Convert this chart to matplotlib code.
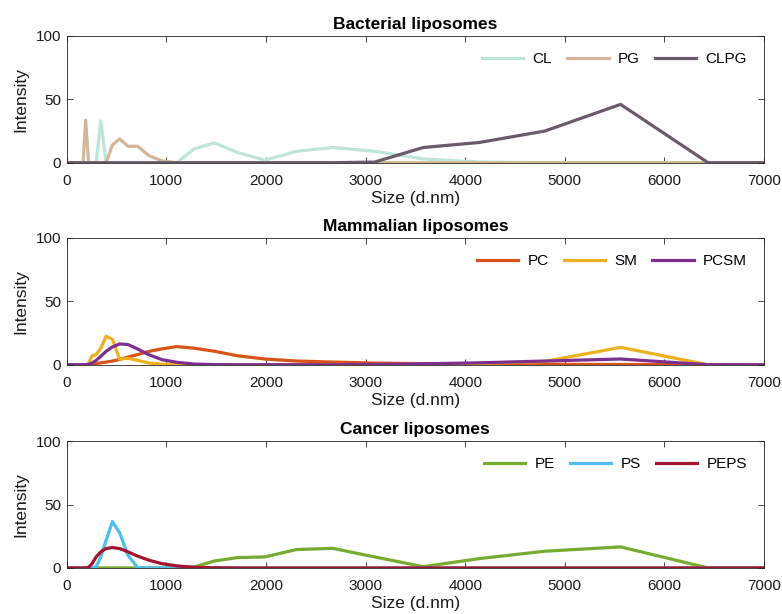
import matplotlib
matplotlib.use("Agg")
import matplotlib.pyplot as plt

plt.rcParams['font.family'] = ['Liberation Sans', 'DejaVu Sans']

# DLS size bins (d.nm), first bin stands for the small-size end
size_bins = [0.4, 122.4, 141.8, 164.2, 190.1, 220.2, 255.0, 295.3, 342.0, 396.1,
             458.7, 531.2, 615.1, 712.4, 825.0, 955.4, 1106, 1281, 1484, 1718,
             1990, 2305, 2669, 3091, 3580, 4145, 4801, 5560, 6439, 7456, 8635, 10000]

# bacterial
cl   = [0, 0, 0, 0, 0, 0, 0, 0, 33, 0, 0, 0, 0, 0, 0, 0, 0, 11, 15.6, 8, 2, 9, 12, 9, 3, 0.5, 0, 0, 0, 0, 0, 0]
pg   = [0, 0, 0, 0, 33.5, 0, 0, 0, 0, 0, 14, 18.8, 13, 13, 5.5, 1.5, 0, 0, 0, 0, 0, 0, 0, 0, 0, 0, 0, 0, 0, 0, 0, 0]
clpg = [0, 0, 0, 0, 0, 0, 0, 0, 0, 0, 0, 0, 0, 0, 0, 0, 0, 0, 0, 0, 0, 0, 0, 0.5, 12, 16, 25, 46, 0, 0, 0, 0]

# mammalian
pc   = [0, 0, 0, 0, 0, 0.1, 0.3, 0.8, 1.5, 2.1, 2.9, 4.2, 6, 8, 10.5, 12.5, 14.3, 13, 10.6, 7, 4.5, 2.9, 2.1, 1.3, 0.8, 0.5, 0.3, 0.2, 0, 0, 0, 0]
sm   = [0, 0, 0, 0, 0, 1, 7, 8, 13, 22.5, 20, 4.5, 5, 3.5, 1.3, 0.5, 0, 0, 0, 0, 0, 0, 0, 0, 0.2, 1, 2.6, 13.7, 0, 0, 0, 0]
pcsm = [0, 0, 0, 0, 0, 0.3, 1.3, 3.4, 6.6, 10.6, 14, 16.4, 15.9, 12.4, 7.9, 4, 1.9, 0.5, 0.1, 0, 0, 0, 0, 0.2, 0.7, 1.5, 2.9, 4.5, 0, 0, 0, 0]

# cancer
pe   = [0, 0, 0, 0, 0, 0, 0, 0, 0, 0, 0, 0, 0, 0, 0, 0, 0, 0.8, 5.5, 8.2, 8.7, 14.5, 15.5, 8.7, 1.0, 7.4, 13.2, 16.6, 0, 0, 0, 0]
ps   = [0, 0, 0, 0, 0, 0, 0, 0.8, 8.7, 22, 36.5, 27.8, 10, 0.3, 0, 0, 0, 0, 0, 0, 0, 0, 0, 0, 0, 0, 0, 0, 0, 0, 0, 0]
peps = [0, 0, 0, 0, 0, 0.5, 3.4, 8.7, 12.7, 15.3, 16.1, 15.3, 12.7, 9.3, 6.1, 3.4, 1.6, 0.5, 0.1, 0, 0, 0, 0, 0, 0, 0, 0, 0, 0, 0, 0, 0]

panels = [
    ("Bacterial liposomes", [("CL", cl, "#bde5d8"), ("PG", pg, "#d1b699"), ("CLPG", clpg, "#695b69")]),
    ("Mammalian liposomes", [("PC", pc, "#D95319"), ("SM", sm, "#EDB120"), ("PCSM", pcsm, "#7E2F8E")]),
    ("Cancer liposomes", [("PE", pe, "#77AC30"), ("PS", ps, "#4DBEEE"), ("PEPS", peps, "#A2142F")]),
]

fig = plt.figure(figsize=(7.82, 6.14), dpi=100)
bottoms = [0.735, 0.406, 0.075]
axcol = "#262626"
for (title, series), b in zip(panels, bottoms):
    ax = fig.add_axes([0.0853, b, 0.8917, 0.2065])
    for name, vals, col in series:
        ax.plot(size_bins, vals, color=col, lw=2.3, label=name, solid_joinstyle='round')
    ax.set_xlim(0, 7000)
    ax.set_ylim(0, 100)
    ax.set_xticks(range(0, 7001, 1000))
    ax.set_yticks([0, 50, 100])
    ax.tick_params(direction='in', top=True, right=True, length=4, width=0.6,
                   labelsize=11, colors=axcol, labelcolor="#1a1a1a")
    ax.tick_params(axis='x', pad=8)
    ax.tick_params(axis='y', pad=4)
    for sp in ax.spines.values():
        sp.set_color(axcol)
        sp.set_linewidth(0.6)
    ax.set_title(title, fontsize=12.5, fontweight='bold', pad=5)
    ax.set_xlabel("Size (d.nm)", fontsize=12.5, labelpad=2, color="#1a1a1a")
    ax.set_ylabel("Intensity", fontsize=12.5, labelpad=5, color="#1a1a1a")
    ax.legend(loc='upper right', ncol=3, frameon=False, fontsize=11,
              handlelength=2.7, columnspacing=1.0, handletextpad=0.6,
              bbox_to_anchor=(0.995, 0.98))

fig.savefig("out.png", dpi=100)
